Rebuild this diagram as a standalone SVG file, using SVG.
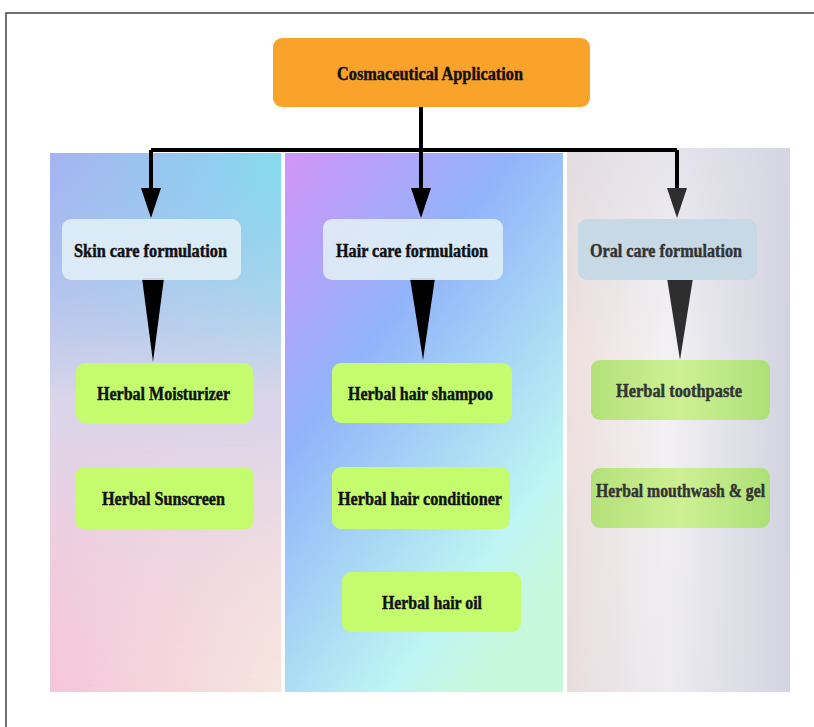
<svg xmlns="http://www.w3.org/2000/svg" width="814" height="727" viewBox="0 0 814 727">
  <defs>
    <style>
      .t{font-family:"Liberation Serif","DejaVu Serif",serif;font-weight:bold;font-size:18.5px;text-anchor:middle;fill:#111;stroke:#111;stroke-width:0.45}
      .tg{fill:#333;stroke:#333}
      .form{fill:#e0eef6;fill-opacity:0.9}
      .green{fill:#c5fc6d}
      .gmuted{fill:url(#gOral)}
      .conn{fill:none;stroke:#000;stroke-width:4}
    </style>
    <linearGradient id="p1v" x1="0" y1="0" x2="0" y2="1">
      <stop offset="0" stop-color="#9ccaef"/>
      <stop offset="0.45" stop-color="#dad5ea"/>
      <stop offset="1" stop-color="#f4d4de"/>
    </linearGradient>
    <linearGradient id="p1top" x1="0" y1="0" x2="1" y2="0">
      <stop offset="0" stop-color="#a6b3f0"/>
      <stop offset="1" stop-color="#86daee"/>
    </linearGradient>
    <linearGradient id="p1bot" x1="0" y1="0" x2="1" y2="0">
      <stop offset="0" stop-color="#f4c5da"/>
      <stop offset="1" stop-color="#f6e6df"/>
    </linearGradient>
    <linearGradient id="fadeTop" x1="0" y1="0" x2="0" y2="1">
      <stop offset="0" stop-color="#fff" stop-opacity="1"/>
      <stop offset="0.45" stop-color="#fff" stop-opacity="0"/>
    </linearGradient>
    <linearGradient id="fadeBot" x1="0" y1="0" x2="0" y2="1">
      <stop offset="0.5" stop-color="#fff" stop-opacity="0"/>
      <stop offset="1" stop-color="#fff" stop-opacity="1"/>
    </linearGradient>
    <mask id="mTop"><rect x="50" y="153" width="231" height="539" fill="url(#fadeTop)"/></mask>
    <mask id="mBot"><rect x="50" y="153" width="231" height="539" fill="url(#fadeBot)"/></mask>
    <linearGradient id="p2" gradientUnits="userSpaceOnUse" x1="270" y1="140" x2="670" y2="440">
      <stop offset="0" stop-color="#d992f7"/>
      <stop offset="0.4" stop-color="#91b3fa"/>
      <stop offset="0.65" stop-color="#a9d8f5"/>
      <stop offset="0.85" stop-color="#bff5f3"/>
      <stop offset="1" stop-color="#c8f8da"/>
    </linearGradient>
    <linearGradient id="p3" x1="0" y1="0" x2="1" y2="0">
      <stop offset="0" stop-color="#eee0dd"/>
      <stop offset="0.45" stop-color="#f4f2f4"/>
      <stop offset="1" stop-color="#d2d3e0"/>
    </linearGradient>
    <linearGradient id="p3b" x1="0" y1="0" x2="0" y2="1">
      <stop offset="0" stop-color="#d8d8e4" stop-opacity="0.5"/>
      <stop offset="0.4" stop-color="#d8d8e4" stop-opacity="0"/>
      <stop offset="1" stop-color="#d8d8e4" stop-opacity="0.25"/>
    </linearGradient>
    <linearGradient id="gOral" x1="0" y1="0" x2="1" y2="0">
      <stop offset="0" stop-color="#b4e17a"/>
      <stop offset="0.5" stop-color="#cdf093"/>
      <stop offset="1" stop-color="#ade077"/>
    </linearGradient>
  </defs>

  <rect x="0" y="0" width="814" height="727" fill="#fff"/>
  <rect x="6" y="13" width="830" height="740" fill="none" stroke="#444" stroke-width="1.5"/>

  <g id="panels">
    <g id="panel-skin">
      <rect x="50" y="153" width="231" height="539" fill="url(#p1v)"/>
      <rect x="50" y="153" width="231" height="539" fill="url(#p1top)" mask="url(#mTop)"/>
      <rect x="50" y="153" width="231" height="539" fill="url(#p1bot)" mask="url(#mBot)"/>
    </g>
    <g id="panel-hair">
      <rect x="285" y="153" width="278" height="539" fill="url(#p2)"/>
    </g>
    <g id="panel-oral">
      <rect x="567" y="148" width="223" height="544" fill="url(#p3)"/>
      <rect x="567" y="148" width="223" height="544" fill="url(#p3b)"/>
    </g>
  </g>

  <g id="connectors">
    <path class="conn" d="M421 107 V150 M151 150 H677 M151 150 V190 M421 150 V190"/>
    <path class="conn" d="M677 150 V190" stroke="#2e2e2e"/>
    <polygon points="141,188 161,188 151,218" fill="#000"/>
    <polygon points="411,188 431,188 421,218" fill="#000"/>
    <polygon points="667,188 687,188 677,218" fill="#2e2e2e"/>
    <polygon points="142,278 164,278 153,362" fill="#000"/>
    <polygon points="410,278 435,278 423,360" fill="#000"/>
    <polygon points="667,278 693,278 680,360" fill="#2e2e2e"/>
  </g>

  <g id="node-root">
    <rect x="273" y="38" width="317" height="69" rx="9" fill="#f9a32b"/>
    <text class="t" x="430" y="80" textLength="186" lengthAdjust="spacingAndGlyphs">Cosmaceutical Application</text>
  </g>

  <g id="node-skin">
    <rect class="form" x="62" y="219" width="179" height="61" rx="9"/>
    <text class="t" x="150.5" y="257" textLength="153" lengthAdjust="spacingAndGlyphs">Skin care formulation</text>
  </g>
  <g id="node-hair">
    <rect class="form" x="323" y="219" width="180" height="61" rx="9"/>
    <text class="t" x="412" y="257" textLength="152" lengthAdjust="spacingAndGlyphs">Hair care formulation</text>
  </g>
  <g id="node-oral">
    <rect x="578" y="219" width="179" height="61" rx="9" fill="#c7d9e4"/>
    <text class="t tg" x="666" y="257" textLength="152" lengthAdjust="spacingAndGlyphs">Oral care formulation</text>
  </g>

  <g id="node-moisturizer">
    <rect class="green" x="76" y="363" width="177" height="60" rx="9"/>
    <text class="t" x="163.5" y="400" textLength="133" lengthAdjust="spacingAndGlyphs">Herbal Moisturizer</text>
  </g>
  <g id="node-sunscreen">
    <rect class="green" x="75" y="467" width="179" height="62" rx="9"/>
    <text class="t" x="163.5" y="505" textLength="123" lengthAdjust="spacingAndGlyphs">Herbal Sunscreen</text>
  </g>
  <g id="node-shampoo">
    <rect class="green" x="332" y="363" width="180" height="60" rx="9"/>
    <text class="t" x="420.5" y="400" textLength="145" lengthAdjust="spacingAndGlyphs">Herbal hair shampoo</text>
  </g>
  <g id="node-conditioner">
    <rect class="green" x="332" y="467" width="178" height="62" rx="9"/>
    <text class="t" x="420" y="505" textLength="164" lengthAdjust="spacingAndGlyphs">Herbal hair conditioner</text>
  </g>
  <g id="node-oil">
    <rect class="green" x="342" y="572" width="179" height="60" rx="9"/>
    <text class="t" x="432" y="609" textLength="100" lengthAdjust="spacingAndGlyphs">Herbal hair oil</text>
  </g>
  <g id="node-toothpaste">
    <rect class="gmuted" x="591" y="360" width="179" height="60" rx="9"/>
    <text class="t tg" x="679" y="397" textLength="126" lengthAdjust="spacingAndGlyphs">Herbal toothpaste</text>
  </g>
  <g id="node-mouthwash">
    <rect class="gmuted" x="591" y="468" width="179" height="60" rx="9"/>
    <text class="t tg" x="680.5" y="497" textLength="169" lengthAdjust="spacingAndGlyphs">Herbal mouthwash &amp; gel</text>
  </g>
</svg>
